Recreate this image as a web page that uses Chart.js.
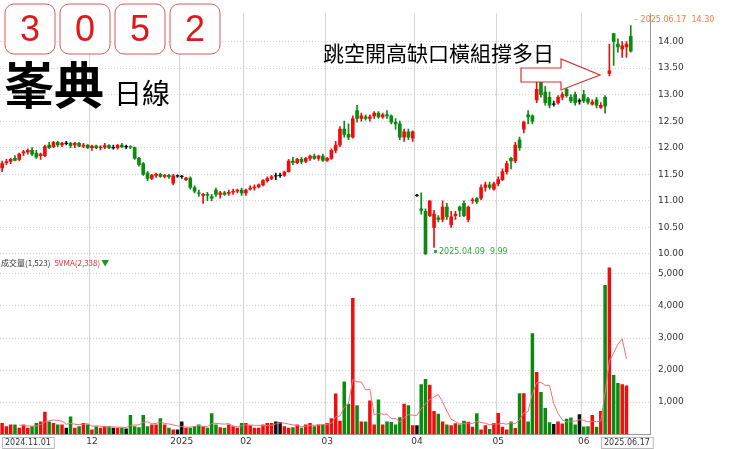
<!DOCTYPE html>
<html><head><meta charset="utf-8">
<script src="https://cdn.jsdelivr.net/npm/chart.js@4/dist/chart.umd.min.js"></script>
<style>html,body{margin:0;padding:0;background:#fff}#w{width:740px;height:449px}</style>
</head><body><div id="w"><canvas id="c"></canvas></div>
<script>
// [open, high, low, close] per trading day, 2024.11.01 .. 2025.06.17
const candles = [
[11.62,11.75,11.55,11.70],[11.72,11.78,11.68,11.74],[11.74,11.80,11.70,11.78],[11.80,11.85,11.75,11.76],[11.78,11.90,11.75,11.88],
[11.90,11.95,11.85,11.92],[11.92,11.98,11.88,11.95],[11.95,12.00,11.85,11.88],[11.90,11.95,11.80,11.82],[11.85,11.90,11.78,11.88],
[11.85,12.05,11.83,12.02],[12.05,12.10,11.98,12.00],[12.02,12.12,12.00,12.10],[12.10,12.12,12.02,12.05],[12.05,12.10,12.02,12.08],
[12.08,12.12,12.05,12.08],[12.08,12.10,12.00,12.04],[12.05,12.10,12.00,12.08],[12.08,12.10,12.02,12.03],[12.03,12.08,12.00,12.05],
[12.05,12.06,11.98,12.00],[12.00,12.05,11.95,12.03],[12.03,12.05,11.98,12.00],[12.00,12.04,11.96,12.01],[12.01,12.08,11.98,12.04],
[12.04,12.06,11.98,12.00],[12.00,12.05,11.97,12.00],[12.00,12.06,11.97,12.05],[12.05,12.08,12.00,12.02],[12.02,12.05,11.98,12.02],
[12.02,12.04,11.98,12.01],[12.00,12.01,11.78,11.80],[11.80,11.82,11.65,11.68],[11.70,11.72,11.48,11.50],[11.52,11.55,11.38,11.42],
[11.42,11.50,11.40,11.48],[11.48,11.52,11.44,11.50],[11.50,11.52,11.44,11.46],[11.46,11.50,11.43,11.48],[11.48,11.50,11.42,11.45],
[11.33,11.50,11.30,11.47],[11.47,11.49,11.44,11.47],[11.46,11.48,11.42,11.46],[11.40,11.44,11.38,11.43],[11.43,11.45,11.22,11.25],
[11.25,11.28,11.15,11.18],[11.15,11.20,11.08,11.14],[11.10,11.14,10.95,11.12],[11.12,11.16,11.00,11.10],[11.08,11.12,11.00,11.05],
[11.20,11.24,11.08,11.12],[11.12,11.18,11.05,11.15],[11.15,11.18,11.10,11.12],[11.14,11.20,11.10,11.16],[11.16,11.22,11.12,11.18],
[11.18,11.22,11.15,11.20],[11.20,11.24,11.10,11.15],[11.15,11.22,11.10,11.20],[11.22,11.28,11.20,11.24],[11.24,11.30,11.20,11.26],
[11.26,11.32,11.24,11.30],[11.30,11.40,11.28,11.38],[11.38,11.45,11.35,11.42],[11.42,11.48,11.40,11.45],[11.47,11.52,11.40,11.47],
[11.48,11.52,11.44,11.48],[11.48,11.56,11.46,11.54],[11.55,11.78,11.54,11.75],[11.75,11.82,11.68,11.72],[11.72,11.80,11.70,11.78],
[11.78,11.82,11.70,11.73],[11.74,11.82,11.72,11.80],[11.80,11.86,11.76,11.84],[11.84,11.88,11.78,11.80],[11.80,11.86,11.76,11.84],
[11.84,11.88,11.74,11.76],[11.76,11.82,11.74,11.80],[11.80,11.98,11.78,11.95],[11.95,12.12,11.90,12.05],[12.05,12.40,12.02,12.35],
[12.35,12.50,12.20,12.25],[12.25,12.45,12.15,12.20],[12.20,12.60,12.18,12.55],[12.70,12.80,12.48,12.55],[12.55,12.65,12.50,12.60],
[12.58,12.62,12.52,12.55],[12.55,12.62,12.50,12.58],[12.60,12.68,12.55,12.65],[12.65,12.68,12.55,12.58],[12.58,12.65,12.55,12.62],
[12.62,12.70,12.55,12.60],[12.60,12.62,12.45,12.48],[12.48,12.55,12.35,12.45],[12.45,12.50,12.15,12.20],[12.20,12.35,12.12,12.30],
[12.30,12.35,12.15,12.20],[12.18,12.32,12.12,12.30],[11.10,11.12,11.08,11.10],[10.85,11.15,10.75,10.82],[10.80,10.85,9.99,10.00],
[10.72,11.00,10.70,11.00],[10.50,10.82,10.12,10.75],[10.68,10.72,10.60,10.65],[10.65,11.00,10.60,10.88],[10.88,10.95,10.65,10.70],
[10.55,10.80,10.50,10.70],[10.72,10.80,10.65,10.75],[10.88,10.90,10.70,10.82],[10.95,11.00,10.70,10.72],[10.65,10.90,10.60,10.88],
[11.00,11.05,10.95,11.02],[11.04,11.06,10.95,10.98],[11.05,11.30,11.02,11.25],[11.25,11.35,11.18,11.30],[11.30,11.35,11.22,11.25],
[11.22,11.35,11.20,11.32],[11.32,11.45,11.28,11.40],[11.40,11.60,11.38,11.55],[11.55,11.75,11.50,11.70],[11.80,11.82,11.60,11.75],
[11.75,12.10,11.72,12.05],[12.15,12.20,11.95,12.00],[12.35,12.50,12.28,12.48],[12.62,12.70,12.45,12.58],[12.60,12.62,12.45,12.50],
[12.90,13.25,12.85,13.10],[13.25,13.30,12.95,13.00],[13.05,13.15,12.80,12.85],[12.95,13.05,12.75,12.80],[12.82,12.88,12.78,12.82],
[12.85,12.98,12.82,12.95],[12.95,13.05,12.90,13.00],[13.10,13.12,12.95,12.98],[12.95,13.00,12.85,12.88],[13.00,13.05,12.80,12.85],
[12.88,12.92,12.82,12.88],[13.00,13.08,12.85,12.88],[12.92,12.95,12.82,12.86],[12.82,12.90,12.80,12.86],[12.90,12.95,12.75,12.80],
[12.76,12.85,12.74,12.80],[12.95,12.98,12.65,12.78],[13.40,13.95,13.35,13.45],[14.15,14.15,13.55,14.00],[13.95,14.05,13.80,13.90],
[13.86,14.00,13.70,13.92],[13.90,14.00,13.70,13.95],[14.10,14.30,13.80,13.82]
];
// volume in lots, same days
const volumes = [
350,250,300,300,200,300,200,250,350,400,
700,400,350,300,300,200,550,200,250,350,
300,150,250,200,250,250,200,200,200,180,
600,250,220,600,250,300,300,500,300,200,
150,150,400,200,200,250,300,250,200,650,
300,220,200,300,250,200,350,350,280,200,
200,300,350,350,400,380,250,200,220,300,
200,300,350,250,300,300,350,500,1270,420,
1640,950,4250,900,400,400,1050,300,1080,300,
400,380,300,530,950,900,280,280,1560,1720,
1540,720,640,400,300,280,340,300,420,390,
230,650,150,280,160,350,660,230,150,400,
190,1280,1280,400,3150,1940,1320,820,370,320,
400,330,480,520,300,620,240,250,600,230,
720,4650,5200,1850,1600,1560,1520
];
const emptySlots = 4; // blank days drawn to the right of the last candle
const monthTicks = {21:'12',42:'2025',57:'02',76:'03',97:'04',116:'05',136:'06'};
const priceTicks = [10,10.5,11,11.5,12,12.5,13,13.5,14];
const volTicks = [1000,2000,3000,4000,5000];
const firstDate = '2024.11.01', lastDate = '2025.06.17';
const lowLabel = '2025.04.09  9.99', highLabel = '2025.06.17  14.30';

const RED='#f00d0d', GREEN='#0b8a10', BLACK='#111';
const n = candles.length + emptySlots;
const labels = Array.from({length:n},(_,i)=>i);
const col = candles.map(c=> c[3]>c[0]?RED:(c[3]<c[0]?GREEN:BLACK));
const bodies = candles.map(c=> c[0]===c[3]?[c[0]-0.006,c[3]+0.006]:[c[0],c[3]]);
const wicks = candles.map(c=>[c[2],c[1]]);
const ma5 = volumes.map((v,i)=> i<4?null: (volumes[i]+volumes[i-1]+volumes[i-2]+volumes[i-3]+volumes[i-4])/5);

const overlay = {
 id:'overlay',
 afterDraw(ch){
  const g=ch.ctx; g.save();
  const xs=[5,60,115,170];
  ['3','0','5','2'].forEach((d,k)=>{
    const x=xs[k],y=4,w=50,h=50,r=9;
    g.beginPath();g.moveTo(x+r,y);g.arcTo(x+w,y,x+w,y+h,r);g.arcTo(x+w,y+h,x,y+h,r);g.arcTo(x,y+h,x,y,r);g.arcTo(x,y,x+w,y,r);g.closePath();
    g.fillStyle='#fff';g.fill();g.strokeStyle='#d85a5a';g.lineWidth=1;g.stroke();
    g.fillStyle='#e01818';g.font='36px "Liberation Sans",Arial';g.textAlign='center';g.textBaseline='middle';g.fillText(d,x+w/2,y+h/2+2);
  });
  g.textAlign='left';g.textBaseline='alphabetic';g.fillStyle='#000';
  g.font='bold 50px "Noto Sans CJK TC"';g.fillText('峯典',4,104);
  g.font='28px "Noto Sans CJK TC"';g.fillText('日線',114,104);
  g.font='21px "Noto Sans CJK TC"';g.fillText('跳空開高缺口橫組撐多日',323,61);
  g.beginPath();g.moveTo(521,68);g.lineTo(561,68);g.lineTo(561,59);g.lineTo(600,75);g.lineTo(561,90);g.lineTo(561,82);g.lineTo(521,82);g.closePath();
  g.fillStyle='#fff';g.fill();g.strokeStyle='#e03030';g.lineWidth=1.2;g.stroke();
  g.font='8px "DejaVu Sans"';g.textBaseline='middle';
  g.fillStyle='#33aa44';g.fillRect(434,250,3,3);g.fillText(lowLabel,439,252);
  g.fillStyle='#ff7a30';g.fillText('\u2013 '+highLabel,634,20);
  g.font='8px "Noto Sans CJK TC"';
  let x=1; const t1='成交量(1,523)', t2='5VMA(2,338)';
  g.fillStyle='#333';g.fillText(t1,x,263);x+=g.measureText(t1).width+4;
  g.fillStyle='#e03030';g.fillText(t2,x,263);x+=g.measureText(t2).width+1;
  g.fillStyle='#1a9a1a';g.fillText('▼',x,263);
  g.font='8px "DejaVu Sans"';
  [[firstDate,2],[lastDate,601]].forEach(([t,x])=>{
    const w=g.measureText(t).width+6;g.fillStyle='#fff';g.fillRect(x,437,w,11);g.strokeStyle='#bbb';g.lineWidth=1;g.strokeRect(x+0.5,437.5,w,11);
    g.fillStyle='#333';g.fillText(t,x+3,443);
  });
  g.restore();
 }
};

new Chart(document.getElementById('c'),{
 data:{labels,datasets:[
  {type:'line',data:ma5,yAxisID:'yv',borderColor:'#f07070',borderWidth:1,pointRadius:0,tension:0,order:0},
  {type:'bar',data:wicks,yAxisID:'yp',backgroundColor:col,barThickness:1,grouped:false,order:2},
  {type:'bar',data:bodies,yAxisID:'yp',backgroundColor:col,barThickness:3,grouped:false,order:1},
  {type:'bar',data:volumes,yAxisID:'yv',backgroundColor:col,barPercentage:0.82,categoryPercentage:1,grouped:false,order:1}
 ]},
 options:{responsive:true,maintainAspectRatio:false,animation:false,
  layout:{padding:0},
  plugins:{legend:{display:false},tooltip:{enabled:false}},
  scales:{
   x:{type:'category',offset:true,
      grid:{color:(c)=> monthTicks[c.index]!==undefined?'#d4d4d4':'rgba(0,0,0,0)',drawTicks:false},
      border:{color:'#999'},
      ticks:{autoSkip:false,maxRotation:0,minRotation:0,padding:2,font:{size:9,family:'DejaVu Sans'},color:'#333',
        callback:(v,i)=> monthTicks[i]||''}},
   yp:{type:'linear',position:'right',stack:'v',stackWeight:247,min:9.868,max:14.53,
      afterBuildTicks:s=>{s.ticks=priceTicks.map(v=>({value:v}));},
      afterFit:s=>{s.width=90;},
      grid:{color:'#cfcfcf',drawTicks:false},border:{dash:[1,2],color:'#999'},
      ticks:{padding:8,font:{size:9,family:'DejaVu Sans'},color:'#333',callback:v=>v.toFixed(2)}},
   yv:{type:'linear',position:'right',stack:'v',stackWeight:173,min:0,max:5406,
      afterBuildTicks:s=>{s.ticks=volTicks.map(v=>({value:v}));},
      afterFit:s=>{s.width=90;},
      grid:{color:'#cfcfcf',drawTicks:false},border:{dash:[1,2],color:'#999'},
      ticks:{padding:8,font:{size:9,family:'DejaVu Sans'},color:'#333',callback:v=>v.toLocaleString('en-US')}}
  }},
 plugins:[overlay]
});
</script></body></html>
